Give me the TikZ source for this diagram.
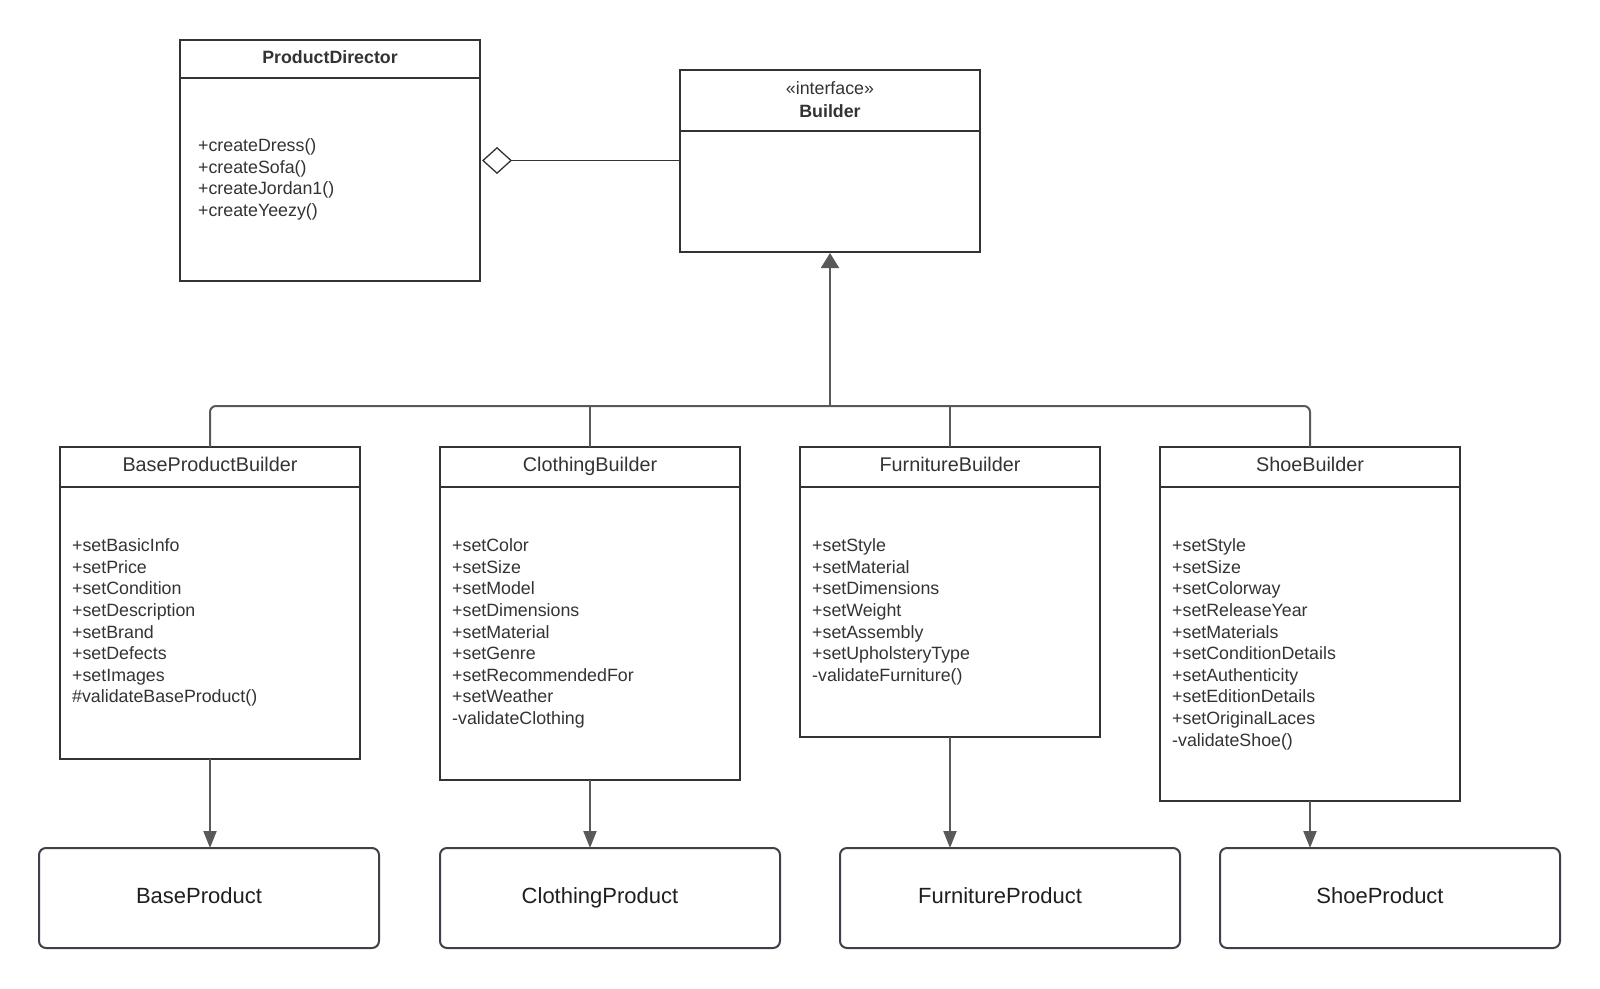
\documentclass[tikz,border=0pt]{standalone}
\usepackage{fontspec}
\setmainfont{Liberation Sans}
\usetikzlibrary{arrows.meta}
\definecolor{ink}{HTML}{333333}
\definecolor{wire}{HTML}{595959}
\definecolor{prodline}{HTML}{3D4149}
\definecolor{prodtext}{HTML}{1E1E1E}

\begin{document}
\begin{tikzpicture}[x=1pt,y=-1pt,
  classbox/.style={draw=ink, line width=2pt, rectangle, inner sep=0pt, outer sep=0pt, anchor=north west},
  titletext/.style={text=ink, font=\fontsize{19.8}{23}\selectfont, inner sep=0pt, anchor=base},
  headtext/.style={text=ink, font=\fontsize{17.8}{22}\selectfont, inner sep=0pt, align=center, anchor=base},
  methods/.style={text=ink, font=\fontsize{17.8}{21.6}\selectfont, inner sep=0pt, align=left, anchor=north west},
  product/.style={draw=prodline, line width=2pt, rounded corners=7pt, rectangle, minimum width=340pt, minimum height=100pt, inner sep=0pt, outer sep=0pt, anchor=north west},
  prodname/.style={text=prodtext, font=\fontsize{22}{26}\selectfont, inner sep=0pt, anchor=base},
  divider/.style={draw=ink, line width=2pt},
  conn/.style={draw=wire, line width=2pt},
  realize/.style={conn, -{Triangle[length=15pt, width=18pt]}, shorten >=1pt},
  makes/.style={conn, -{Triangle[length=17pt, width=13pt]}},
  aggr/.style={draw=ink, line width=1.3pt, {Diamond[open, length=30pt, width=27pt]}-, shorten <=2pt}
]
\useasboundingbox (0,0) rectangle (1600,988);

% ---- director ----
\node[classbox, minimum width=300pt, minimum height=241pt] (director) at (180,40) {};
\draw[divider] ([yshift=-38pt]director.north west) -- ([yshift=-38pt]director.north east);
\node[headtext, font=\bfseries\fontsize{17.8}{22}\selectfont] (director-title) at (330,63) {ProductDirector};
\node[methods, font=\fontsize{17.8}{21.5}\selectfont] (director-ops) at (198,138.5)
  {+createDress()\\+createSofa()\\+createJordan1()\\+createYeezy()};

% ---- builder interface ----
\node[classbox, minimum width=300pt, minimum height=182pt] (builder) at (680,70) {};
\draw[divider] ([yshift=-61pt]builder.north west) -- ([yshift=-61pt]builder.north east);
\node[headtext] (builder-stereo) at (830,94.5) {«interface»};
\node[headtext, font=\bfseries\fontsize{17.8}{22}\selectfont] (builder-title) at (830,117) {Builder};

% ---- concrete builders ----
\node[classbox, minimum width=300pt, minimum height=312pt] (bpb) at (60,447) {};
\node[classbox, minimum width=300pt, minimum height=333pt] (cb) at (440,447) {};
\node[classbox, minimum width=300pt, minimum height=290pt] (fb) at (800,447) {};
\node[classbox, minimum width=300pt, minimum height=354pt] (sb) at (1160,447) {};
\foreach \b in {bpb,cb,fb,sb}
  \draw[divider] ([yshift=-40pt]\b.north west) -- ([yshift=-40pt]\b.north east);

\node[titletext] (bpb-title) at ([yshift=-24.5pt]bpb.north) {BaseProductBuilder};
\node[titletext] (cb-title) at ([yshift=-24.5pt]cb.north) {ClothingBuilder};
\node[titletext] (fb-title) at ([yshift=-24.5pt]fb.north) {FurnitureBuilder};
\node[titletext] (sb-title) at ([yshift=-24.5pt]sb.north) {ShoeBuilder};

\node[methods] (bpb-ops) at (72,538.5)
  {+setBasicInfo\\+setPrice\\+setCondition\\+setDescription\\+setBrand\\+setDefects\\+setImages\\\#validateBaseProduct()};
\node[methods] (cb-ops) at (452,538.5)
  {+setColor\\+setSize\\+setModel\\+setDimensions\\+setMaterial\\+setGenre\\+setRecommendedFor\\+setWeather\\-validateClothing};
\node[methods] (fb-ops) at (812,538.5)
  {+setStyle\\+setMaterial\\+setDimensions\\+setWeight\\+setAssembly\\+setUpholsteryType\\-validateFurniture()};
\node[methods] (sb-ops) at (1172,538.5)
  {+setStyle\\+setSize\\+setColorway\\+setReleaseYear\\+setMaterials\\+setConditionDetails\\+setAuthenticity\\+setEditionDetails\\+setOriginalLaces\\-validateShoe()};

% ---- products ----
\node[product] (bp) at (39,848) {};
\node[product] (cp) at (440,848) {};
\node[product] (fp) at (840,848) {};
\node[product] (sp) at (1220,848) {};
\node[prodname] (bp-name) at ([xshift=-10pt,yshift=-5pt]bp.center) {BaseProduct};
\node[prodname] (cp-name) at ([xshift=-10pt,yshift=-5pt]cp.center) {ClothingProduct};
\node[prodname] (fp-name) at ([xshift=-10pt,yshift=-5pt]fp.center) {FurnitureProduct};
\node[prodname] (sp-name) at ([xshift=-10pt,yshift=-5pt]sp.center) {ShoeProduct};

% ---- aggregation ----
\draw[aggr] (director.east) -- (builder.west |- director.east);

% ---- realization bus ----
\coordinate (bus) at (830,406);
\draw[conn, rounded corners=6pt] (bpb.north) |- (bus) -| (sb.north);
\draw[conn] (cb.north) -- (cb.north |- bus);
\draw[conn] (fb.north) -- (fb.north |- bus);
\draw[realize] (bus) -- (builder.south);

% ---- builders produce products ----
\draw[makes] (bpb.south) -- (bpb.south |- bp.north);
\draw[makes] (cb.south) -- (cb.south |- cp.north);
\draw[makes] (fb.south) -- (fb.south |- fp.north);
\draw[makes] (sb.south) -- (sb.south |- sp.north);
\end{tikzpicture}
\end{document}
